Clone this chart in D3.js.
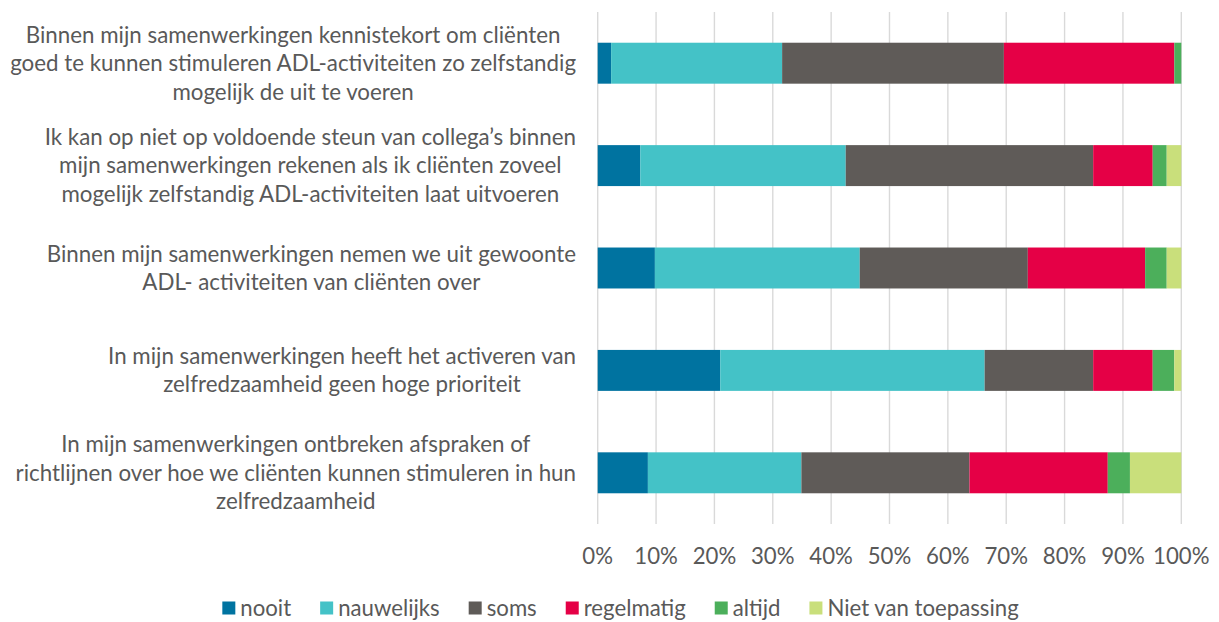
<!DOCTYPE html>
<html>
<head>
<meta charset="utf-8">
<script src="https://cdn.jsdelivr.net/npm/d3@7"></script>
<style>
  body { margin: 0; background: #fff; }
  text { font-family: Lato, "Open Sans", sans-serif; fill: #595959; }
</style>
</head>
<body>
<div id="chart"></div>
<script>
// statements (one array of lines per bar, top to bottom)
const statements = [
    ["Binnen mijn samenwerkingen kennistekort om cliënten", "goed te kunnen stimuleren ADL-activiteiten zo zelfstandig", "mogelijk de uit te voeren"],
    ["Ik kan op niet op voldoende steun van  collega’s binnen", "mijn samenwerkingen rekenen als ik cliënten zoveel", "mogelijk zelfstandig ADL-activiteiten laat uitvoeren"],
    ["Binnen mijn samenwerkingen nemen we uit gewoonte", "ADL- activiteiten van cliënten over"],
    ["In mijn samenwerkingen heeft het activeren van", "zelfredzaamheid geen hoge prioriteit"],
    ["In mijn samenwerkingen ontbreken afspraken of", "richtlijnen over hoe we cliënten kunnen stimuleren in hun", "zelfredzaamheid"]
];

const answers = ["nooit", "nauwelijks", "soms", "regelmatig", "altijd", "Niet van toepassing"];
const colors = ["#0073a0", "#44c2c7", "#5f5b58", "#e50046", "#4caf5b", "#c9df7b"];

// percentages per answer, same order as statements
const nooit = [2.3, 7.3, 9.8, 21.0, 8.6];
const nauwelijks = [29.3, 35.2, 35.1, 45.3, 26.3];
const soms = [38.0, 42.4, 28.8, 18.6, 28.8];
const regelmatig = [29.2, 10.2, 20.1, 10.2, 23.7];
const altijd = [1.2, 2.4, 3.7, 3.7, 3.8];
const nvt = [0, 2.5, 2.5, 1.2, 8.8];

const tickValues = [0, 0.1, 0.2, 0.3, 0.4, 0.5, 0.6, 0.7, 0.8, 0.9, 1];

const width = 1219, height = 622;
const fontSize = 22.2;

const rows = statements.map((s, i) => ({
    idx: i,
    nooit: nooit[i],
    nauwelijks: nauwelijks[i],
    soms: soms[i],
    regelmatig: regelmatig[i],
    altijd: altijd[i],
    "Niet van toepassing": nvt[i]
}));

const svg = d3.select("#chart")
    .append("svg")
    .attr("width", width)
    .attr("height", height);

const x = d3.scaleLinear().domain([0, 1]).range([597.7, 1181.3]);
const y = d3.scaleBand()
    .domain(d3.range(statements.length))
    .range([12, 524])
    .paddingInner(0.6)
    .paddingOuter(0.3);
const color = d3.scaleOrdinal().domain(answers).range(colors);

// gridlines
svg.append("g")
    .selectAll("line")
    .data(tickValues)
    .enter()
    .append("line")
    .attr("x1", d => x(d))
    .attr("x2", d => x(d))
    .attr("y1", 12)
    .attr("y2", 524)
    .attr("stroke", "#d9d9d9")
    .attr("stroke-width", 1.4);

// stacked bars
const stack = d3.stack().keys(answers).offset(d3.stackOffsetExpand);
const layers = stack(rows);

svg.append("g")
    .selectAll("g")
    .data(layers)
    .enter()
    .append("g")
    .attr("fill", d => color(d.key))
    .selectAll("rect")
    .data(d => d)
    .enter()
    .append("rect")
    .attr("x", d => x(d[0]))
    .attr("width", d => x(d[1]) - x(d[0]))
    .attr("y", d => y(d.data.idx))
    .attr("height", y.bandwidth());

// x tick labels
svg.append("g")
    .selectAll("text")
    .data(tickValues)
    .enter()
    .append("text")
    .attr("x", d => x(d))
    .attr("y", 556)
    .attr("dy", "0.35em")
    .attr("text-anchor", "middle")
    .style("font-size", fontSize + "px")
    .text(d3.format(".0%"));

// label size: widest label line should span about 567px, like the original
const probe = svg.append("text").style("font-size", "20px").text(statements[0][1]);
const labelSize = 20 * 566 / probe.node().getComputedTextLength();
probe.remove();

// category labels: block right-aligned to the axis, lines centred in the block
const lineH = 28.5;
const labelRight = 576;
statements.forEach((lines, i) => {
    const cy = y(i) + y.bandwidth() / 2;
    const g = svg.append("g");
    const texts = g.selectAll("text")
        .data(lines)
        .enter()
        .append("text")
        .attr("y", (d, j) => cy + (j - (lines.length - 1) / 2) * lineH)
        .attr("dy", "0.35em")
        .attr("text-anchor", "middle")
        .style("font-size", labelSize + "px")
        .text(d => d);
    let w = 0;
    texts.each(function () { w = Math.max(w, this.getComputedTextLength()); });
    texts.attr("x", labelRight - w / 2);
});

// legend
const legend = svg.append("g");
let lx = 0;
answers.forEach(a => {
    const item = legend.append("g").attr("transform", "translate(" + lx + ",0)");
    item.append("rect")
        .attr("x", 0)
        .attr("y", -6.5)
        .attr("width", 13)
        .attr("height", 13)
        .attr("fill", color(a));
    const t = item.append("text")
        .attr("x", 18)
        .attr("dy", "0.35em")
        .style("font-size", fontSize + "px")
        .text(a);
    lx += 18 + t.node().getComputedTextLength() + 29;
});
const legendW = lx - 29;
legend.attr("transform", "translate(" + (620.5 - legendW / 2) + ",608)");
</script>
</body>
</html>
